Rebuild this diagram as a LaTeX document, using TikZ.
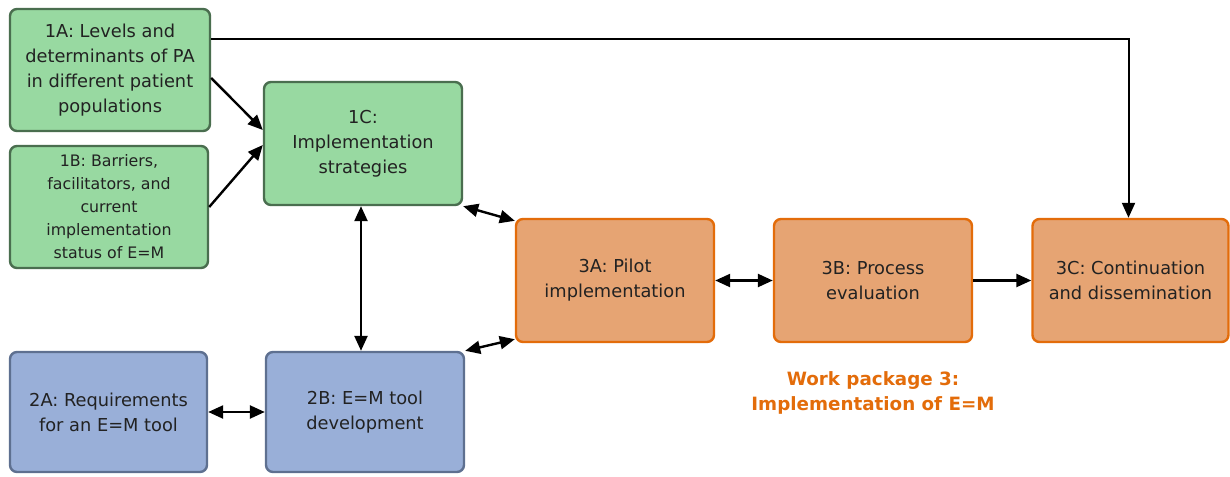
\documentclass[tikz,border=0pt]{standalone}
\usepackage{fontspec}
\setmainfont{DejaVu Sans}
\usetikzlibrary{arrows.meta,calc}
\definecolor{gfill}{HTML}{98D9A1}
\definecolor{gline}{HTML}{4A6E4F}
\definecolor{bfill}{HTML}{99AFD8}
\definecolor{bline}{HTML}{5E7090}
\definecolor{ofill}{HTML}{E6A473}
\definecolor{oline}{HTML}{E36C0A}
\definecolor{txt}{HTML}{222222}
\tikzset{
  wpbox/.style={rounded corners=7pt, line width=2.4pt, align=center, text=txt,
    inner sep=0pt, font=\fontsize{17.8}{25}\selectfont},
  gbox/.style={wpbox, draw=gline, fill=gfill},
  bbox/.style={wpbox, draw=bline, fill=bfill},
  obox/.style={wpbox, draw=oline, fill=ofill},
  tip/.tip={Triangle[length=15pt,width=13pt]},
  conn/.style={line width=2.4pt, draw=black, -tip},
  bconn/.style={line width=2.4pt, draw=black, tip-tip},
}
\begin{document}
\begin{tikzpicture}[x=1pt,y=-1pt]
\useasboundingbox (0,0) rectangle (1230,476);
\fill[white] (0,0) rectangle (1230,476);
\node[gbox, minimum width=200pt, minimum height=122pt] (1A) at (110,70)
  {1A: Levels and\\determinants of PA\\in different patient\\populations};
\node[gbox, minimum width=198pt, minimum height=122pt, font=\fontsize{15.8}{23}\selectfont] (1B) at (109,207)
  {1B: Barriers,\\facilitators, and\\current\\implementation\\status of E=M};
\node[gbox, minimum width=198pt, minimum height=123pt] (1C) at (363,143.5)
  {1C:\\Implementation\\strategies};
\node[bbox, minimum width=197pt, minimum height=120pt] (2A) at (108.5,412)
  {2A: Requirements\\for an E=M tool};
\node[bbox, minimum width=198pt, minimum height=120pt] (2B) at (365,412)
  {2B: E=M tool\\development};
\node[obox, minimum width=198pt, minimum height=123pt] (3A) at (615,280.5)
  {3A: Pilot\\implementation};
\node[obox, minimum width=198pt, minimum height=123pt] (3B) at (873,280.5)
  {3B: Process\\evaluation};
\node[obox, minimum width=196pt, minimum height=123pt] (3C) at (1130.5,280.5)
  {3C: Continuation\\and dissemination};
\node[align=center, text=oline, font=\fontsize{18.3}{25}\selectfont\bfseries] (wp3) at (873,393)
  {Work package 3:\\Implementation of E=M};
% connectors
\draw[conn, line width=2pt] ([yshift=31pt]1A.east) -| ([xshift=-2pt]3C.north);
\draw[conn] ([yshift=-8pt]1A.east) -- ([yshift=13.5pt]1C.west);
\draw[conn] (1B.east) -- ([yshift=-1.5pt]1C.west);
\coordinate (c1) at ([xshift=-2pt]1C.south);
\draw[bconn] (c1) -- (c1 |- 2B.north);
\draw[bconn] (1C.south east) -- ([yshift=-3pt]3A.north west);
\draw[bconn] (2B.north east) -- ([yshift=4pt]3A.south west);
\draw[bconn] (2A.east) -- (2B.west);
\draw[bconn] (3A.east) -- (3B.west);
\draw[conn] (3B.east) -- (3C.west);
\end{tikzpicture}
\end{document}
